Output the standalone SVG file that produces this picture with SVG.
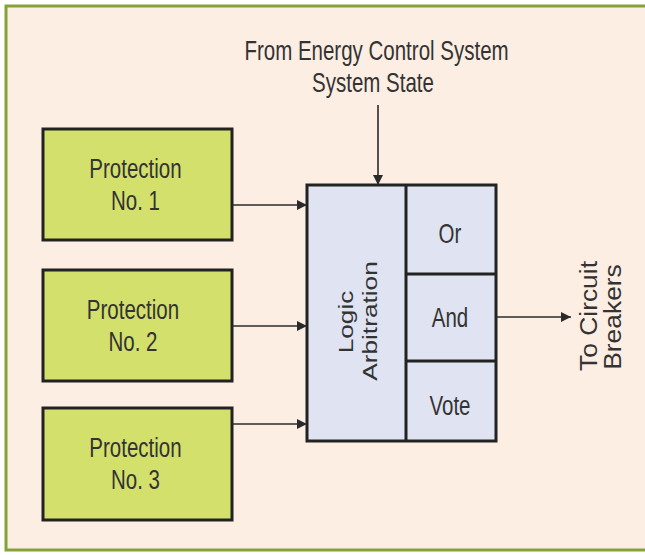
<svg xmlns="http://www.w3.org/2000/svg" width="645" height="555" viewBox="0 0 645 555">
<style>
.t{font-family:"Liberation Sans",Arial,sans-serif;font-size:20.5px;fill:#333;text-anchor:middle}
.r{font-family:"Liberation Sans",Arial,sans-serif;fill:#333;text-anchor:middle}
.prot{fill:#d3e06c;stroke:#222;stroke-width:3}
.logic{fill:#dfe3f2;stroke:#222;stroke-width:3}
.conn{stroke:#2a2a2a;stroke-width:1.6;fill:none;marker-end:url(#ah)}
</style>
<defs>
<marker id="ah" viewBox="0 0 10 10" refX="10" refY="5" markerWidth="10" markerHeight="10" markerUnits="userSpaceOnUse" orient="auto">
<path d="M0,0 L10,5 L0,10 z" fill="#2a2a2a"/>
</marker>
</defs>
<rect x="0" y="0" width="645" height="555" fill="#ffffff"/>
<rect x="6" y="6" width="720" height="544" fill="#fdeee3" stroke="#86a236" stroke-width="3"/>
<g id="title">
<text class="t" transform="translate(376.5,60) scale(1,1.35)">From Energy Control System</text>
<text class="t" transform="translate(373,92) scale(1,1.35)">System State</text>
</g>
<g id="prot1">
<rect class="prot" x="43" y="129" width="189" height="111"/>
<text class="t" transform="translate(135.5,178) scale(1,1.35)">Protection</text>
<text class="t" transform="translate(135.5,210) scale(1,1.35)">No. 1</text>
</g>
<g id="prot2">
<rect class="prot" x="43" y="270" width="189" height="111"/>
<text class="t" transform="translate(133,319) scale(1,1.35)">Protection</text>
<text class="t" transform="translate(133,351) scale(1,1.35)">No. 2</text>
</g>
<g id="prot3">
<rect class="prot" x="43" y="408" width="189" height="112"/>
<text class="t" transform="translate(135.5,457) scale(1,1.35)">Protection</text>
<text class="t" transform="translate(135.5,489) scale(1,1.35)">No. 3</text>
</g>
<g id="logic">
<rect class="logic" x="307" y="185" width="189" height="256"/>
<line x1="406" y1="185" x2="406" y2="441" stroke="#222" stroke-width="3"/>
<line x1="406" y1="274" x2="496" y2="274" stroke="#222" stroke-width="3"/>
<line x1="406" y1="361" x2="496" y2="361" stroke="#222" stroke-width="3"/>
<text class="r" font-size="21" transform="translate(353,322) scale(1,1.25) rotate(-90)">Logic</text>
<text class="r" font-size="21" transform="translate(377,321) scale(1,1.25) rotate(-90)">Arbitration</text>
</g>
<g id="or"><text class="t" transform="translate(450,243) scale(1,1.35)">Or</text></g>
<g id="and"><text class="t" transform="translate(450,327) scale(1,1.35)">And</text></g>
<g id="vote"><text class="t" transform="translate(450,415) scale(1,1.35)">Vote</text></g>
<g id="out">
<text class="r" font-size="24" transform="translate(597,316) scale(1,1.1) rotate(-90)">To Circuit</text>
<text class="r" font-size="24" transform="translate(621,317) scale(1,1.1) rotate(-90)">Breakers</text>
</g>
<g id="connectors">
<line class="conn" x1="378" y1="105" x2="378" y2="185"/>
<line class="conn" x1="232" y1="205" x2="307" y2="205"/>
<line class="conn" x1="232" y1="326" x2="307" y2="326"/>
<line class="conn" x1="232" y1="424" x2="307" y2="424"/>
<line class="conn" x1="496" y1="317" x2="571" y2="317"/>
</g>
</svg>
